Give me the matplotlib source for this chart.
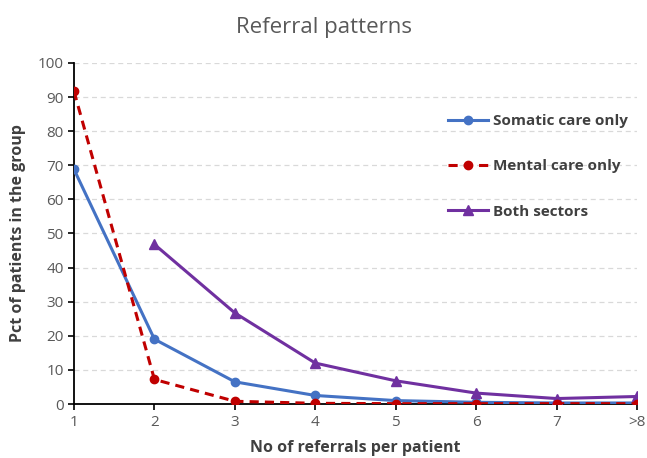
import matplotlib
matplotlib.use("Agg")
import matplotlib.pyplot as plt

categories = ["1", "2", "3", "4", "5", "6", "7", ">8"]
somatic = [68.8, 19.0, 6.5, 2.5, 1.0, 0.5, 0.3, 0.3]
mental = [91.7, 7.2, 0.8, 0.2, 0.1, 0.1, 0.1, 0.1]
both_cats = ["2", "3", "4", "5", "6", "7", ">8"]
both = [46.8, 26.7, 12.0, 6.8, 3.2, 1.6, 2.2]

plt.rcParams['font.family'] = ['Open Sans', 'DejaVu Sans']

fig = plt.figure(figsize=(6.47, 4.58), dpi=100)
ax = fig.add_axes([74/647, 1-404/458, (637-74)/647, (404-63)/458])

x = list(range(len(categories)))
xb = [categories.index(c) for c in both_cats]

ax.plot(x, somatic, color="#4472C4", lw=2.2, marker="o", ms=6, label="Somatic care only", zorder=3)
ax.plot(x, mental, color="#C00000", lw=2.2, ls=(0, (3, 2)), marker="o", ms=6, label="Mental care only", zorder=4)
ax.plot(xb, both, color="#7030A0", lw=2.2, marker="^", ms=7, label="Both sectors", zorder=3)

ax.set_xlim(0, len(categories) - 1)
ax.set_ylim(0, 100)
ax.set_yticks(range(0, 101, 10))
ax.set_xticks(x)
ax.set_xticklabels(categories)
ax.yaxis.grid(True, color="#D9D9D9", ls=(0, (4, 3)), lw=0.9)
ax.set_axisbelow(True)
for s in ["top", "right"]:
    ax.spines[s].set_visible(False)
ax.spines["left"].set_color("black")
ax.spines["bottom"].set_color("black")
ax.spines["left"].set_linewidth(1.3)
ax.spines["bottom"].set_linewidth(1.3)
ax.tick_params(axis="both", colors="black", labelcolor="#595959", labelsize=11, length=4, width=1.2)
ax.tick_params(axis="x", pad=4)

ax.set_xlabel("No of referrals per patient", fontsize=11.5, fontweight="bold", color="#404040", labelpad=7)
ax.set_ylabel("Pct of patients in the group", fontsize=11.5, fontweight="bold", color="#404040", labelpad=8)
fig.suptitle("Referral patterns", fontsize=16, color="#595959", y=0.962)

leg = ax.legend(loc="upper left", bbox_to_anchor=(0.665, 0.85), frameon=False, fontsize=11,
                labelspacing=2.05, handlelength=2.6, handletextpad=0.3, borderpad=0, borderaxespad=0)
for t in leg.get_texts():
    t.set_color("#404040")
    t.set_fontweight("bold")

fig.savefig("out.png", dpi=100)
